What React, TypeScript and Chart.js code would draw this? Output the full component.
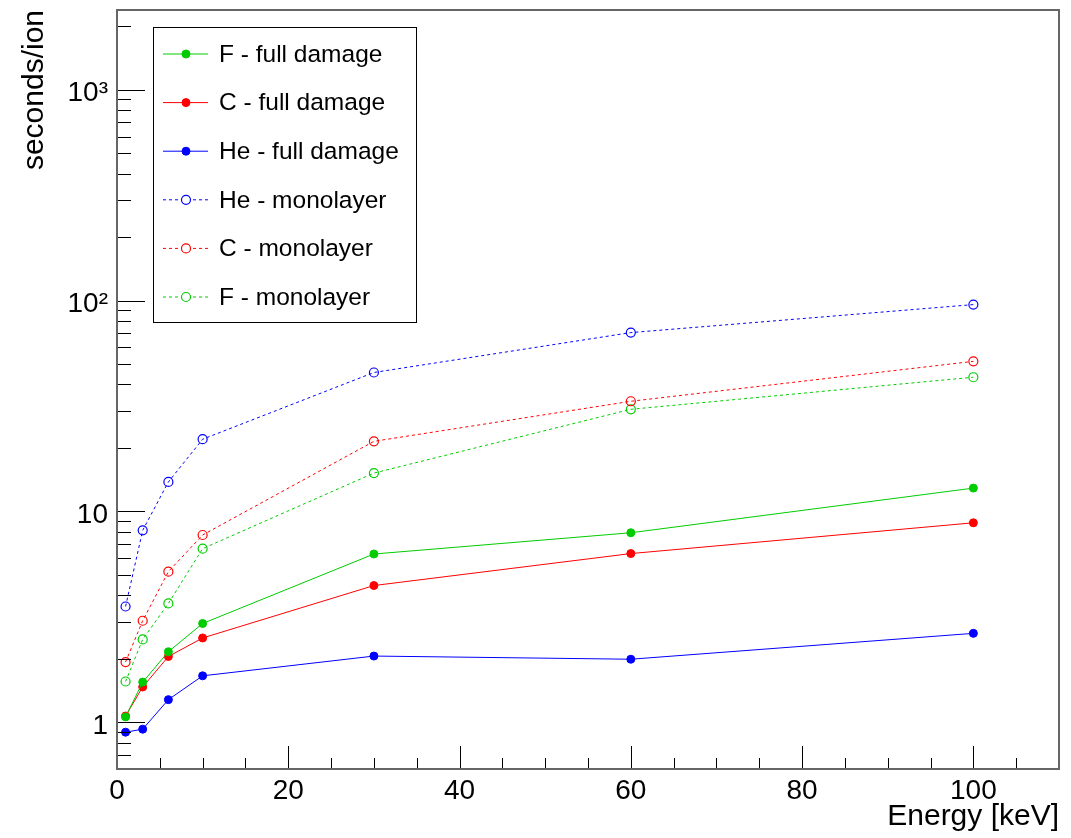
import React, { useEffect, useRef } from "react";
import { Chart, registerables } from "chart.js";

Chart.register(...registerables);

// ---- Data ----
const energies = [1, 3, 6, 10, 30, 60, 100];
const fFull = [1.06, 1.55, 2.16, 2.94, 6.28, 7.92, 12.9];
const cFull = [1.07, 1.47, 2.05, 2.51, 4.45, 6.31, 8.83];
const heFull = [0.897, 0.927, 1.28, 1.66, 2.06, 1.99, 2.64];
const heMono = [3.54, 8.13, 13.8, 22.0, 45.6, 70.5, 95.7];
const cMono = [1.93, 3.03, 5.18, 7.73, 21.5, 33.3, 51.5];
const fMono = [1.56, 2.47, 3.66, 6.66, 15.2, 30.5, 43.3];

const seriesLabels = [
  "F - full damage",
  "C - full damage",
  "He - full damage",
  "He - monolayer",
  "C - monolayer",
  "F - monolayer",
];

const xTickValues = [0, 20, 40, 60, 80, 100];
const xTickLabels = ["0", "20", "40", "60", "80", "100"];
const yTickValues = [1, 10, 100, 1000];
const yTickLabels = ["1", "10", "10²", "10³"];

const X_MIN = 0;
const X_MAX = 110;
const Y_MIN = 0.622;
const Y_MAX = 2390;

const GREEN = "#00cc00";
const RED = "#ff0000";
const BLUE = "#0000ff";
const FONT = "'Liberation Sans', Arial, Helvetica, sans-serif";
const OPEN_FILL = "rgba(255,255,255,0)";

const toPts = (ys: number[]) => energies.map((x, i) => ({ x, y: ys[i] }));

function makeDataset(label: string, ys: number[], color: string, open: boolean) {
  return {
    label,
    data: toPts(ys),
    borderColor: color,
    backgroundColor: open ? OPEN_FILL : color,
    pointBackgroundColor: open ? OPEN_FILL : color,
    pointBorderColor: color,
    pointRadius: open ? 4.5 : 4,
    pointBorderWidth: open ? 1.2 : 1,
    pointStyle: "circle",
    borderWidth: 1,
    borderDash: open ? [3, 3] : [],
    showLine: true,
    tension: 0,
    fill: false,
  };
}

const rootAxesPlugin = {
  id: "rootAxes",
  afterDraw(chart: any) {
    const { ctx, chartArea } = chart;
    const { left, right, top, bottom } = chartArea;
    const xs = chart.scales.x;
    const ys = chart.scales.y;
    ctx.save();
    ctx.strokeStyle = "#000";
    ctx.lineWidth = 1;
    ctx.beginPath();
    for (let v = X_MIN; v <= X_MAX; v += 5) {
      const px = Math.round(xs.getPixelForValue(v)) + 0.5;
      const len = v % 20 === 0 ? 23 : 11;
      ctx.moveTo(px, bottom);
      ctx.lineTo(px, bottom - len);
    }
    const decades = [0.1, 1, 10, 100, 1000];
    for (const d of decades) {
      for (let m = 1; m <= 9; m++) {
        const v = d * m;
        if (v < Y_MIN || v > Y_MAX) continue;
        const py = Math.round(ys.getPixelForValue(v)) + 0.5;
        const len = m === 1 ? 28 : 14;
        ctx.moveTo(left, py);
        ctx.lineTo(left + len, py);
      }
    }
    ctx.stroke();
    ctx.strokeStyle = "#666";
    ctx.lineWidth = 2;
    ctx.strokeRect(left, top, right - left, bottom - top);
    ctx.restore();
  },
};

const rootLegendPlugin = {
  id: "rootLegend",
  afterDraw(chart: any) {
    const { ctx } = chart;
    const bx = 153;
    const by = 27;
    const bw = 263;
    const bh = 295;
    ctx.save();
    ctx.fillStyle = "#fff";
    ctx.fillRect(bx, by, bw, bh);
    ctx.strokeStyle = "#000";
    ctx.lineWidth = 1;
    ctx.strokeRect(bx + 0.5, by + 0.5, bw, bh);
    const rowH = 48.6;
    chart.data.datasets.forEach((ds: any, i: number) => {
      const cy = by + 27 + i * rowH;
      ctx.strokeStyle = ds.borderColor;
      ctx.lineWidth = 1;
      ctx.setLineDash(ds.borderDash || []);
      ctx.beginPath();
      ctx.moveTo(163, cy);
      ctx.lineTo(208, cy);
      ctx.stroke();
      ctx.setLineDash([]);
      ctx.beginPath();
      ctx.arc(186, cy, ds.pointRadius, 0, Math.PI * 2);
      ctx.fillStyle = ds.pointBackgroundColor !== OPEN_FILL ? ds.pointBackgroundColor : "#fff";
      ctx.fill();
      ctx.lineWidth = ds.pointBorderWidth;
      ctx.strokeStyle = ds.pointBorderColor;
      ctx.stroke();
      ctx.fillStyle = "#000";
      ctx.font = `24.5px ${FONT}`;
      ctx.textAlign = "left";
      ctx.textBaseline = "middle";
      ctx.fillText(ds.label, 219, cy + 1);
    });
    ctx.restore();
  },
};

export default function App() {
  const canvasRef = useRef<HTMLCanvasElement | null>(null);

  useEffect(() => {
    const canvas = canvasRef.current;
    if (!canvas) return;
    const chart = new Chart(canvas, {
      type: "scatter",
      data: {
        datasets: [
          makeDataset(seriesLabels[0], fFull, GREEN, false),
          makeDataset(seriesLabels[1], cFull, RED, false),
          makeDataset(seriesLabels[2], heFull, BLUE, false),
          makeDataset(seriesLabels[3], heMono, BLUE, true),
          makeDataset(seriesLabels[4], cMono, RED, true),
          makeDataset(seriesLabels[5], fMono, GREEN, true),
        ] as any,
      },
      options: {
        responsive: false,
        animation: false,
        devicePixelRatio: 1,
        layout: { padding: { left: 0, top: 10, right: 12, bottom: 0 } },
        plugins: {
          legend: { display: false },
          tooltip: { enabled: false },
          title: { display: false },
        },
        scales: {
          x: {
            type: "linear",
            min: X_MIN,
            max: X_MAX,
            grid: { display: false, drawTicks: false },
            border: { display: false },
            afterBuildTicks: (scale: any) => {
              scale.ticks = xTickValues.map((v) => ({ value: v }));
            },
            afterFit: (scale: any) => {
              scale.height = 69;
              scale.paddingLeft = 0;
              scale.paddingRight = 0;
            },
            ticks: {
              autoSkip: false,
              maxRotation: 0,
              padding: 5,
              color: "#000",
              font: { family: FONT, size: 28 },
              callback: (value: any) => {
                const idx = xTickValues.indexOf(Number(value));
                return idx >= 0 ? xTickLabels[idx] : "";
              },
            },
            title: {
              display: true,
              text: "Energy [keV]",
              align: "end",
              color: "#000",
              font: { family: FONT, size: 30 },
              padding: { top: 0, bottom: 3 },
            },
          },
          y: {
            type: "logarithmic",
            min: Y_MIN,
            max: Y_MAX,
            grid: { display: false, drawTicks: false },
            border: { display: false },
            afterBuildTicks: (scale: any) => {
              scale.ticks = yTickValues.map((v) => ({ value: v }));
            },
            afterFit: (scale: any) => {
              scale.width = 117;
              scale.paddingTop = 0;
              scale.paddingBottom = 0;
            },
            ticks: {
              autoSkip: false,
              padding: 9,
              labelOffset: 4,
              color: "#000",
              font: { family: FONT, size: 28 },
              callback: (value: any) => {
                const idx = yTickValues.indexOf(Number(value));
                return idx >= 0 ? yTickLabels[idx] : "";
              },
            },
            title: {
              display: true,
              text: "seconds/ion",
              align: "end",
              color: "#000",
              font: { family: FONT, size: 30 },
              padding: { top: 17, bottom: 0 },
            },
          },
        },
      } as any,
      plugins: [rootAxesPlugin, rootLegendPlugin],
    });
    return () => chart.destroy();
  }, []);

  return (
    <div style={{ position: "absolute", left: 0, top: 0, width: 1071, height: 838, background: "#fff" }}>
      <canvas ref={canvasRef} width={1071} height={838} style={{ width: 1071, height: 838, display: "block" }} />
    </div>
  );
}
